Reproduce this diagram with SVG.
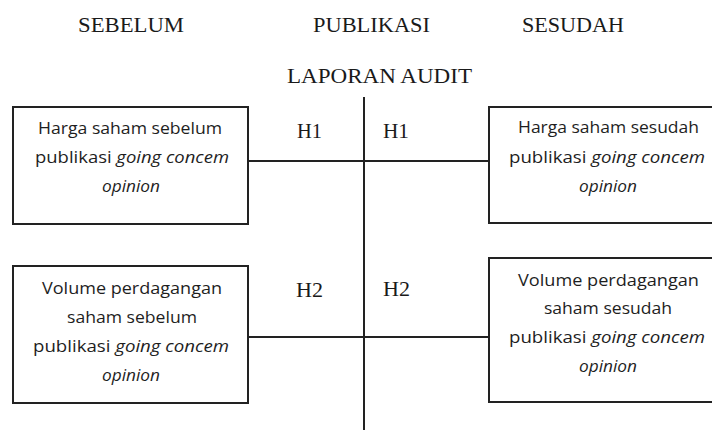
<svg xmlns="http://www.w3.org/2000/svg" width="712" height="430" viewBox="0 0 712 430">
<style>
.bg{fill:#ffffff}
.title{font-family:"Liberation Serif","Times New Roman",serif;font-size:22px;fill:#1a1a1a}
.box{fill:#ffffff;stroke:#222222;stroke-width:2}
.lbl{font-family:"Open Sans","Noto Sans",sans-serif;font-size:17px;fill:#1e1e1e}
.it{font-style:italic}
.conn{stroke:#222222;stroke-width:2;fill:none}
</style>
<rect class="bg" x="0" y="0" width="712" height="430"/>
<g id="headers">
<text class="title" x="78" y="32" textLength="106" lengthAdjust="spacingAndGlyphs">SEBELUM</text>
<text class="title" x="313" y="32" textLength="117" lengthAdjust="spacingAndGlyphs">PUBLIKASI</text>
<text class="title" x="522" y="32" textLength="102" lengthAdjust="spacingAndGlyphs">SESUDAH</text>
<text class="title" x="287" y="83" textLength="185" lengthAdjust="spacingAndGlyphs">LAPORAN AUDIT</text>
</g>
<g id="connectors">
<line class="conn" x1="364" y1="97" x2="364" y2="430"/>
<line class="conn" x1="248" y1="161" x2="489" y2="161"/>
<line class="conn" x1="248" y1="337" x2="489" y2="337"/>
</g>
<g id="hypotheses">
<text class="title" x="297" y="138" textLength="25" lengthAdjust="spacingAndGlyphs">H1</text>
<text class="title" x="383" y="138" textLength="26" lengthAdjust="spacingAndGlyphs">H1</text>
<text class="title" x="296" y="297" textLength="27" lengthAdjust="spacingAndGlyphs">H2</text>
<text class="title" x="383" y="296" textLength="27" lengthAdjust="spacingAndGlyphs">H2</text>
</g>
<g id="node-harga-sebelum">
<rect class="box" x="13" y="107" width="235" height="117"/>
<text class="lbl" x="38" y="134" textLength="184" lengthAdjust="spacingAndGlyphs">Harga saham sebelum</text>
<text class="lbl" x="35" y="163" textLength="194" lengthAdjust="spacingAndGlyphs">publikasi <tspan class="it">going concem</tspan></text>
<text class="lbl it" x="102" y="192" textLength="58" lengthAdjust="spacingAndGlyphs">opinion</text>
</g>
<g id="node-harga-sesudah">
<rect class="box" x="489" y="107" width="240" height="116"/>
<text class="lbl" x="518" y="133" textLength="181" lengthAdjust="spacingAndGlyphs">Harga saham sesudah</text>
<text class="lbl" x="509" y="163" textLength="196" lengthAdjust="spacingAndGlyphs">publikasi <tspan class="it">going concem</tspan></text>
<text class="lbl it" x="579" y="192" textLength="58" lengthAdjust="spacingAndGlyphs">opinion</text>
</g>
<g id="node-volume-sebelum">
<rect class="box" x="13" y="266" width="235" height="137"/>
<text class="lbl" x="42" y="294" textLength="180" lengthAdjust="spacingAndGlyphs">Volume perdagangan</text>
<text class="lbl" x="67" y="323" textLength="130" lengthAdjust="spacingAndGlyphs">saham sebelum</text>
<text class="lbl" x="33" y="352" textLength="196" lengthAdjust="spacingAndGlyphs">publikasi <tspan class="it">going concem</tspan></text>
<text class="lbl it" x="102" y="381" textLength="58" lengthAdjust="spacingAndGlyphs">opinion</text>
</g>
<g id="node-volume-sesudah">
<rect class="box" x="489" y="258" width="240" height="144"/>
<text class="lbl" x="518" y="286" textLength="181" lengthAdjust="spacingAndGlyphs">Volume perdagangan</text>
<text class="lbl" x="544" y="314" textLength="128" lengthAdjust="spacingAndGlyphs">saham sesudah</text>
<text class="lbl" x="509" y="343" textLength="196" lengthAdjust="spacingAndGlyphs">publikasi <tspan class="it">going concem</tspan></text>
<text class="lbl it" x="579" y="372" textLength="58" lengthAdjust="spacingAndGlyphs">opinion</text>
</g>
</svg>
